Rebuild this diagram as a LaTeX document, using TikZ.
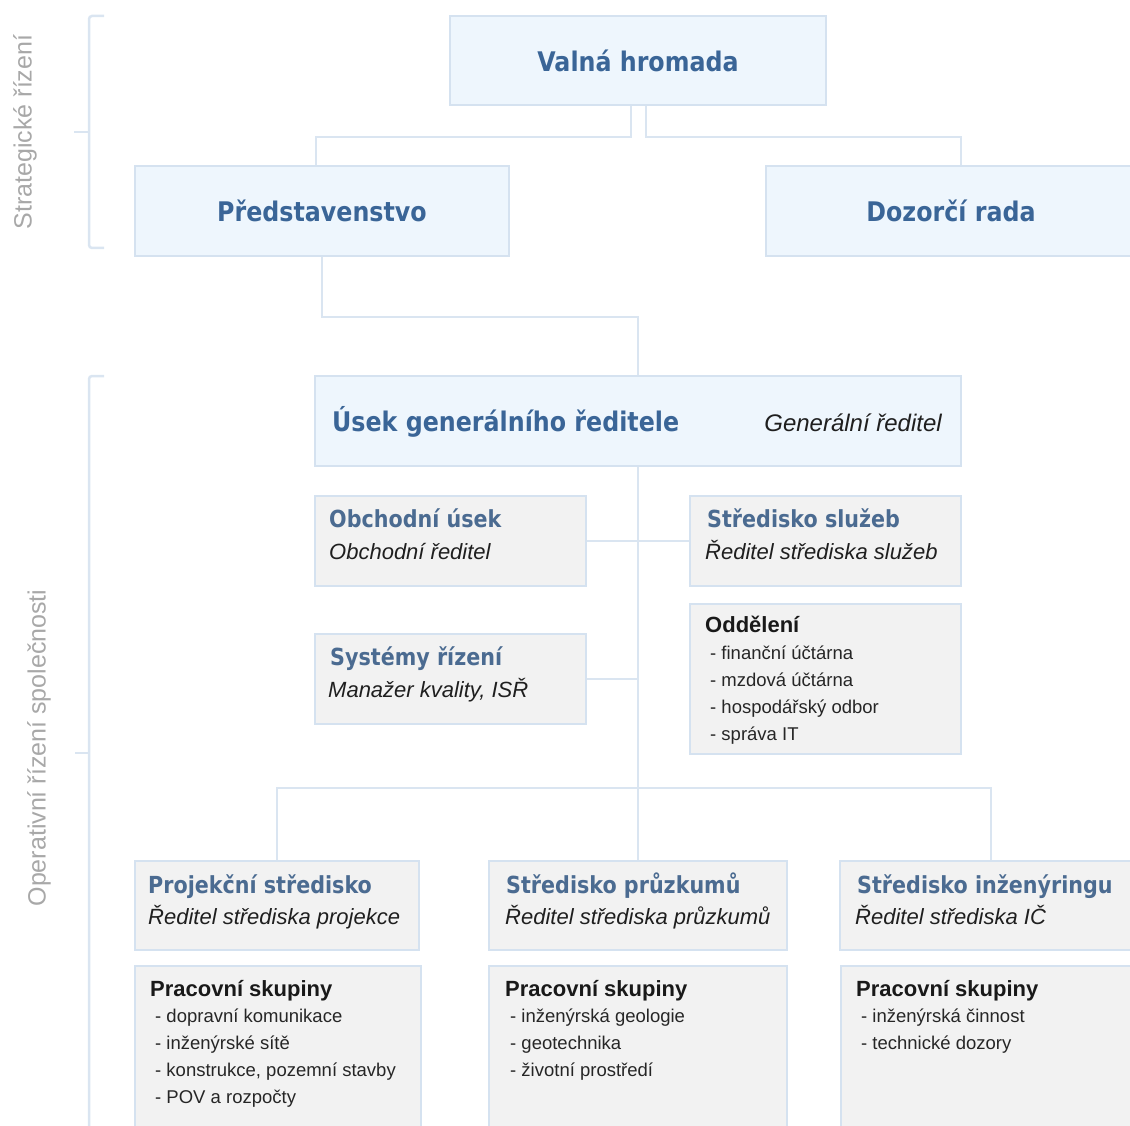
\documentclass[tikz,border=0pt]{standalone}
\usepackage{fontspec}
\setmainfont{Liberation Sans}
\newfontfamily\headfont[FakeStretch=0.88]{DejaVu Sans}
\usetikzlibrary{positioning}
\definecolor{linec}{HTML}{DAE5F1}
\definecolor{bluefill}{HTML}{EEF6FD}
\definecolor{boxline}{HTML}{D5E2F0}
\definecolor{grayfill}{HTML}{F2F2F2}
\definecolor{headblue}{HTML}{3A6597}
\definecolor{subblue}{HTML}{4B6B91}
\definecolor{sidegray}{HTML}{A8A8A8}
\tikzset{
  conn/.style={draw=linec, line width=2.5pt},
  bracket/.style={draw=linec, line width=2.5pt, rounded corners=3pt},
  topbox/.style={draw=boxline, fill=bluefill, line width=2pt, anchor=north west, inner sep=0pt},
  unitbox/.style={draw=boxline, fill=grayfill, line width=2pt, anchor=north west, inner sep=0pt},
  toptext/.style={font=\headfont\bfseries\fontsize{27}{32}\selectfont, text=headblue},
  subhead/.style={font=\headfont\bfseries\fontsize{23.5}{28}\selectfont, text=subblue, anchor=base west, inner sep=0pt},
  role/.style={font=\itshape\fontsize{22}{26}\selectfont, text=black!88, anchor=base west, inner sep=0pt},
  grouphead/.style={font=\bfseries\fontsize{22}{26}\selectfont, text=black!90, anchor=base west, inner sep=0pt},
  item/.style={font=\fontsize{18.5}{22}\selectfont, text=black!85, anchor=base west, inner sep=0pt},
  sidelabel/.style={font=\fontsize{25}{30}\selectfont, text=sidegray, rotate=90}
}

\begin{document}
\begin{tikzpicture}[x=1pt, y={(0pt,-1pt)}]
    \useasboundingbox (0,0) rectangle (1130,1126);

    % strategic level
    \node[topbox, toptext, minimum width=376pt, minimum height=89pt] (valna) at (449,15) {Valná hromada};
    \node[topbox, toptext, minimum width=374pt, minimum height=90pt] (predst) at (134,165) {Představenstvo};
    \node[topbox, toptext, minimum width=370pt, minimum height=90pt] (dozor) at (765,165) {Dozorčí rada};

    % general director
    \node[topbox, minimum width=646pt, minimum height=90pt] (usek) at (314,375) {};
    \node[toptext, anchor=base west, inner sep=0pt] (usek-name) at ([xshift=18pt,yshift=-56pt]usek.north west) {Úsek generálního ředitele};
    \node[role, font=\itshape\fontsize{24}{28}\selectfont, anchor=base east] (usek-role) at ([xshift=-20pt,yshift=-56pt]usek.north east) {Generální ředitel};

    % staff units
    \node[unitbox, minimum width=271pt, minimum height=90pt] (obch) at (314,495) {};
    \node[subhead] (obch-name) at ([xshift=15pt,yshift=-32.5pt]obch.north west) {Obchodní úsek};
    \node[role] (obch-role) at ([xshift=15pt,yshift=-64pt]obch.north west) {Obchodní ředitel};

    \node[unitbox, minimum width=271pt, minimum height=90pt] (sluzeb) at (689,495) {};
    \node[subhead] (sluzeb-name) at ([xshift=18pt,yshift=-32.5pt]sluzeb.north west) {Středisko služeb};
    \node[role] (sluzeb-role) at ([xshift=16pt,yshift=-64pt]sluzeb.north west) {Ředitel střediska služeb};

    \node[unitbox, minimum width=271pt, minimum height=90pt] (system) at (314,633) {};
    \node[subhead] (system-name) at ([xshift=16pt,yshift=-32.5pt]system.north west) {Systémy řízení};
    \node[role] (system-role) at ([xshift=14pt,yshift=-64pt]system.north west) {Manažer kvality, ISŘ};

    \node[unitbox, minimum width=271pt, minimum height=150pt] (odd) at (689,603) {};
    \node[grouphead] (odd-name) at ([xshift=16pt,yshift=-29pt]odd.north west) {Oddělení};
    \foreach \t [count=\i] in {finanční účtárna, mzdová účtárna, hospodářský odbor, správa IT}
        \node[item] (odd-\i) at ([xshift=21pt,yshift={-56pt-27pt*(\i-1)}]odd.north west) {- \t};

    % centres
    \node[unitbox, minimum width=284pt, minimum height=89pt] (proj) at (134,860) {};
    \node[subhead] (proj-name) at ([xshift=14pt,yshift=-33pt]proj.north west) {Projekční středisko};
    \node[role] (proj-role) at ([xshift=14pt,yshift=-64pt]proj.north west) {Ředitel střediska projekce};

    \node[unitbox, minimum width=298pt, minimum height=89pt] (pruzk) at (488,860) {};
    \node[subhead] (pruzk-name) at ([xshift=18pt,yshift=-33pt]pruzk.north west) {Středisko průzkumů};
    \node[role] (pruzk-role) at ([xshift=17pt,yshift=-64pt]pruzk.north west) {Ředitel střediska průzkumů};

    \node[unitbox, minimum width=302pt, minimum height=89pt] (inzen) at (839,860) {};
    \node[subhead] (inzen-name) at ([xshift=18pt,yshift=-33pt]inzen.north west) {Středisko inženýringu};
    \node[role] (inzen-role) at ([xshift=16pt,yshift=-64pt]inzen.north west) {Ředitel střediska IČ};

    % working groups
    \node[unitbox, minimum width=286pt, minimum height=180pt] (skup1) at (134,965) {};
    \node[grouphead] (skup1-name) at ([xshift=16pt,yshift=-31pt]skup1.north west) {Pracovní skupiny};
    \foreach \t [count=\i] in {dopravní komunikace, inženýrské sítě, {konstrukce, pozemní stavby}, POV a rozpočty}
        \node[item] (skup1-\i) at ([xshift=21pt,yshift={-57pt-27pt*(\i-1)}]skup1.north west) {- \t};

    \node[unitbox, minimum width=298pt, minimum height=180pt] (skup2) at (488,965) {};
    \node[grouphead] (skup2-name) at ([xshift=17pt,yshift=-31pt]skup2.north west) {Pracovní skupiny};
    \foreach \t [count=\i] in {inženýrská geologie, geotechnika, životní prostředí}
        \node[item] (skup2-\i) at ([xshift=22pt,yshift={-57pt-27pt*(\i-1)}]skup2.north west) {- \t};

    \node[unitbox, minimum width=302pt, minimum height=180pt] (skup3) at (840,965) {};
    \node[grouphead] (skup3-name) at ([xshift=16pt,yshift=-31pt]skup3.north west) {Pracovní skupiny};
    \foreach \t [count=\i] in {inženýrská činnost, technické dozory}
        \node[item] (skup3-\i) at ([xshift=21pt,yshift={-57pt-27pt*(\i-1)}]skup3.north west) {- \t};

    % connectors
    \draw[conn] ([xshift=-7pt]valna.south) -- ++(0,31) -| ([xshift=-6pt]predst.north);
    \draw[conn] ([xshift=8pt]valna.south) -- ++(0,31) -| ([xshift=10pt]dozor.north);
    \draw[conn] (predst.south) -- ++(0,60) -| (usek.north);
    \draw[conn] (usek.south) -- (pruzk.north);
    \draw[conn] (obch.east) -- (sluzeb.west);
    \draw[conn] (system.east) -- (system.east -| usek.south);
    \draw[conn] (proj.north) -- ++(0,-72) -| (inzen.north);

    % side brackets
    \draw[bracket] (104,16) -- (89,16) -- (89,248) -- (104,248);
    \draw[bracket] (74,132) -- (89,132);
    \node[sidelabel] (strat) at (25,132) {Strategické řízení};
    \draw[bracket] (104,376) -- (89,376) -- (89,1140);
    \draw[bracket] (75,753) -- (89,753);
    \node[sidelabel] (oper) at (39,748) {Operativní řízení společnosti};
\end{tikzpicture}
\end{document}
